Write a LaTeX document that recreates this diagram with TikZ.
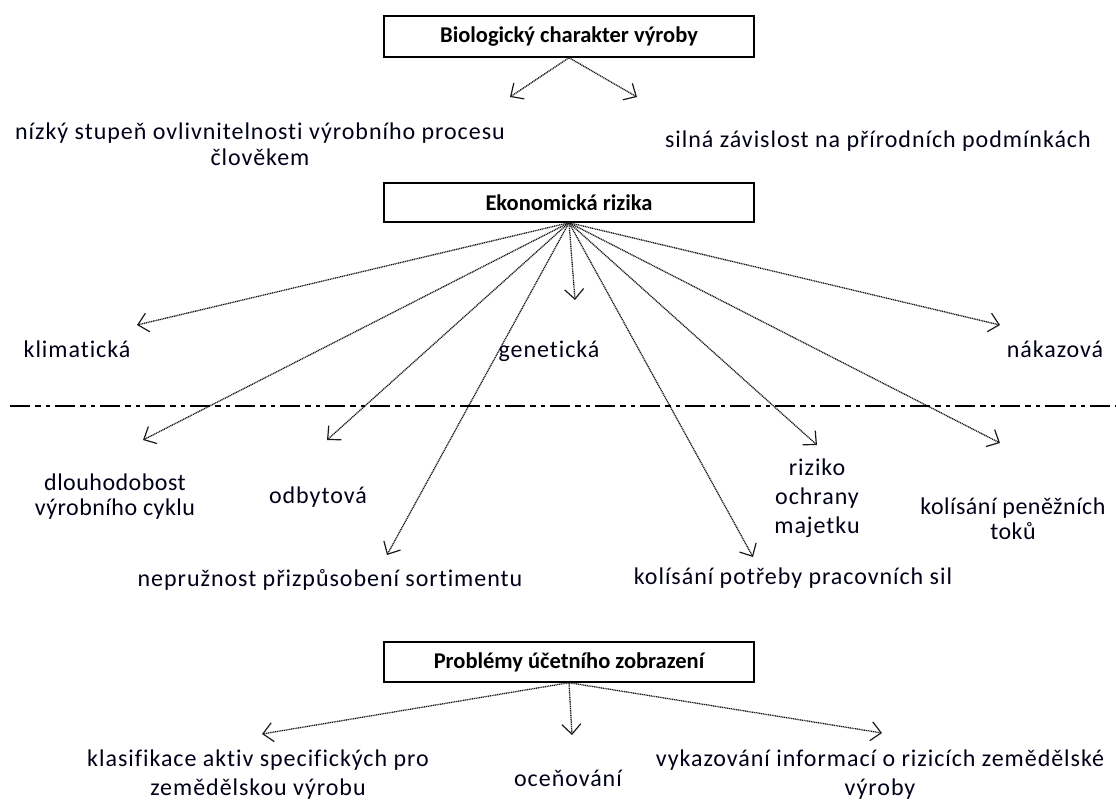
\documentclass[tikz,border=0pt]{standalone}
\usepackage{fontspec}
\setmainfont{Carlito}[RawFeature={-liga;-clig;-calt;-dlig}]
\newfontfamily\bodyfont[LetterSpace=4,RawFeature={-liga;-clig;-calt;-dlig}]{Carlito}
\newfontfamily\tightfont[LetterSpace=2,RawFeature={-liga;-clig;-calt;-dlig}]{Carlito}
\usetikzlibrary{arrows.meta}
\tikzset{
  titlebox/.style={draw=black, line width=1.4pt, minimum width=370pt, inner sep=0pt,
    font=\bfseries\fontsize{22.5}{26}\selectfont, text=black},
  lbl/.style={align=center, inner sep=0pt, text=black!90!blue, font=\bodyfont\fontsize{24}{26}\selectfont},
  arr/.style={draw=black!90, line width=1.3pt, dash pattern=on 1.1pt off 0.7pt,
    -{Straight Barb[length=10pt,width=19pt,line width=1.2pt]}},
  sepline/.style={draw=black, line width=1.3pt, dash pattern=on 20pt off 5pt on 6pt off 5pt on 4pt off 5pt}
}
\begin{document}
\begin{tikzpicture}[x=1pt,y=-1pt]
\useasboundingbox (0,0) rectangle (1116,803);
% boxes
\node[titlebox, minimum height=41pt] (bio) at (569,36.5) {Biologický charakter výroby};
\node[titlebox, minimum height=39pt] (eko) at (569,202.5) {Ekonomická rizika};
\node[titlebox, minimum height=40pt] (prob) at (569,662) {Problémy účetního zobrazení};
% top labels
\node[lbl] (nizky) at (260,144) {nízký stupeň ovlivnitelnosti výrobního procesu\\člověkem};
\node[lbl] (silna) at (878,141) {silná závislost na přírodních podmínkách};
% tips
\coordinate (tNiz) at (510,97);
\coordinate (tSil) at (637,97);
\draw[arr] (bio.south) -- (tNiz);
\draw[arr] (bio.south) -- (tSil);
% risk labels
\node[lbl, anchor=base] (klim) at (77,357) {klimatická};
\node[lbl, anchor=base] (gen) at (549,357) {genetická};
\node[lbl, anchor=base] (nak) at (1055,357) {nákazová};
\node[lbl, font=\tightfont\fontsize{24}{25}\selectfont] (dlou) at (115,497) {dlouhodobost\\výrobního cyklu};
\node[lbl] (odb) at (318,497) {odbytová};
\node[lbl] (nepr) at (330,580) {nepružnost přizpůsobení sortimentu};
\node[lbl] (kolp) at (793,578) {kolísání potřeby pracovních sil};
\node[lbl, font=\bodyfont\fontsize{24}{29}\selectfont] (riz) at (817,498) {riziko\\ochrany\\majetku};
\node[lbl, font=\tightfont\fontsize{24}{25}\selectfont] (kolpen) at (1013,519) {kolísání peněžních\\toků};
\coordinate (tKlim) at (137,325);
\coordinate (tGen) at (575,300);
\coordinate (tNak) at (1000,325);
\coordinate (tDlou) at (143,440);
\coordinate (tOdb) at (327,440);
\coordinate (tNepr) at (387,555);
\coordinate (tKolp) at (753,557);
\coordinate (tRiz) at (817,445);
\coordinate (tPen) at (1000,443);
\foreach \t in {tKlim,tGen,tNak,tDlou,tOdb,tNepr,tKolp,tRiz,tPen}
  \draw[arr] (eko.south) -- (\t);
% separator
\coordinate (sepA) at (10,406);
\coordinate (sepB) at (1116,406);
\draw[sepline] (sepA) -- (sepB);
% bottom labels
\node[lbl, font=\bodyfont\fontsize{24}{29}\selectfont] (klas) at (258,775) {klasifikace aktiv specifických pro\\zemědělskou výrobu};
\node[lbl] (ocen) at (568,778) {oceňování};
\node[lbl, font=\bodyfont\fontsize{24}{29}\selectfont] (vyk) at (880,775) {vykazování informací o rizicích zemědělské\\výroby};
\coordinate (tKlas) at (262,734);
\coordinate (tOcen) at (572,735);
\coordinate (tVyk) at (882,733);
\draw[arr] (prob.south) -- (tKlas);
\draw[arr] (prob.south) -- (tOcen);
\draw[arr] (prob.south) -- (tVyk);
\end{tikzpicture}
\end{document}
